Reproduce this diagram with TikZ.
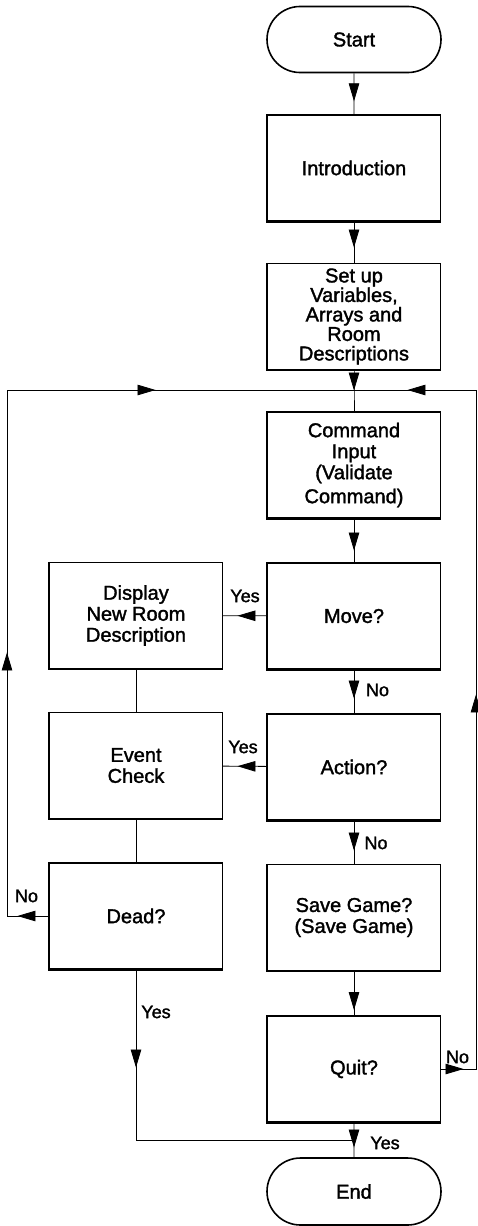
\documentclass[tikz,border=0pt]{standalone}
\usepackage{fontspec}
\setmainfont{Liberation Sans}[FakeBold=1.6]
\usetikzlibrary{shapes.misc,arrows.meta,decorations.markings}
\begin{document}
\begin{tikzpicture}[x=1pt,y=-1pt,
  box/.style={draw,line width=1.1pt,minimum width=173pt,minimum height=106pt,inner sep=0pt,align=center,font=\fontsize{20}{21}\selectfont},
  term/.style={draw,rounded rectangle,line width=1.6pt,minimum width=174pt,minimum height=66pt,inner sep=0pt,font=\fontsize{20}{21}\selectfont},
  conn/.style={line width=0.8pt},
  lbl/.style={font=\fontsize{18}{18}\selectfont,inner sep=0pt},
  arrowat/.style={postaction={decorate,decoration={markings,mark=at position #1pt with {\arrow{Triangle[length=18pt,width=10.5pt]}}}}},
]
\fill[white] (0,0) rectangle (477,1226);
\useasboundingbox (0,0) rectangle (477,1226);

% right column
\node[term] (start) at (354,39.5) {Start};
\node[box] (intro) at (354,168) {Introduction};
\node[box,font=\fontsize{20}{19.5}\selectfont] (setup) at (354,316.5) {Set up\\Variables,\\Arrays and\\Room\\Descriptions};
\node[box] (cmd) at (354,465) {Command\\Input\\(Validate\\[3pt]Command)};
\node[box] (move) at (354,616) {Move?};
\node[box] (action) at (354,767) {Action?};
\node[box] (save) at (354,917.5) {Save Game?\\(Save Game)};
\node[box] (quit) at (354,1069) {Quit?};
\node[term,minimum height=67pt] (end) at (354,1191.5) {End};

% left column
\node[box] (display) at (136,615.5) {Display\\New Room\\Description};
\node[box] (event) at (136,765.5) {Event\\Check};
\node[box] (dead) at (136,916) {Dead?};

% heavy left and bottom edges
\foreach \n in {intro,setup,cmd,move,action,save,quit,display,event,dead}
  \draw[line width=2.6pt] (\n.north west) -- (\n.south west) -- (\n.south east);

% junctions
\coordinate (m) at (354,390);
\coordinate (j) at (354,1140);
\coordinate (dl) at (7,916);
\coordinate (tl) at (7,390);
\coordinate (qr) at (476,1069);
\coordinate (tr) at (476,390);

% main flow
\draw[conn,arrowat=28] (start) -- (intro);
\draw[conn,arrowat=26] (intro) -- (setup);
\draw[conn,arrowat=20.5] (setup) -- (m) -- (cmd);
\draw[conn,arrowat=32] (cmd) -- (move);
\draw[conn,arrowat=29] (move) -- (action);
\draw[conn,arrowat=30] (action) -- (save);
\draw[conn,arrowat=39] (save) -- (quit);
\draw[conn,arrowat=25] (quit) -- (end);

% yes branches
\draw[conn,arrowat=29.5] (move) -- (display);
\draw[conn,arrowat=29.5] (action) -- (event);
\draw[conn] (display) -- (event);
\draw[conn] (event) -- (dead);

% dead no loop
\draw[conn,arrowat=31.5,arrowat=305.5,arrowat=716.5] (dead.west) -- (dl) -- (tl) -- (m);
% dead yes
\draw[conn,arrowat=98] (dead.south) -- (dead.south |- j) -- (j);
% quit no loop
\draw[conn,arrowat=22.5,arrowat=409.5,arrowat=782.5] (quit.east) -- (qr) -- (tr) -- (m);

% labels
\node[lbl] (l1) at (245,596) {Yes};
\node[lbl] (l2) at (243,747) {Yes};
\node[lbl] (l3) at (377.5,690) {No};
\node[lbl] (l4) at (376,843) {No};
\node[lbl] (l5) at (26.5,896) {No};
\node[lbl] (l6) at (156,1012) {Yes};
\node[lbl] (l7) at (457.5,1057) {No};
\node[lbl] (l8) at (385,1143) {Yes};
\end{tikzpicture}
\end{document}
